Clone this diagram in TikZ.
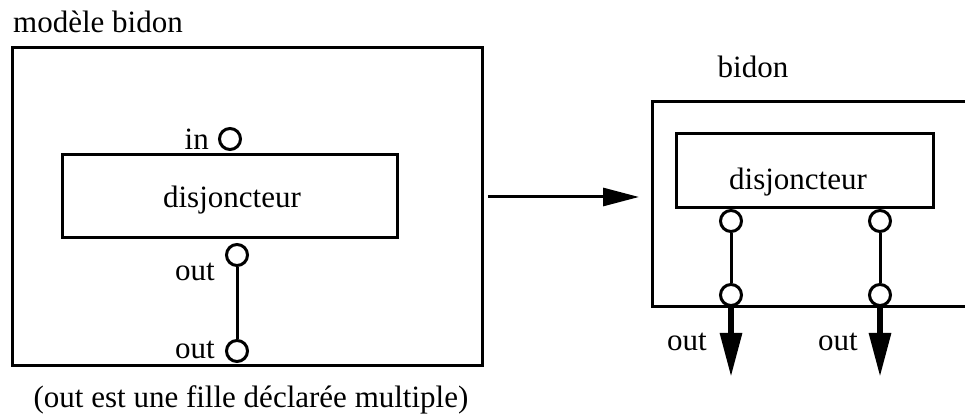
\documentclass[tikz,border=0pt]{standalone}
\usepackage{fontspec}
\setmainfont{Liberation Serif}
\usetikzlibrary{arrows.meta,positioning}

\begin{document}
\begin{tikzpicture}[x=1pt,y=1pt,>=Triangle,
 font=\fontsize{31}{36}\selectfont,
 frame/.style={draw,line width=3pt},
 port/.style={draw,circle,line width=3pt,minimum size=21pt,inner sep=0pt},
 wire/.style={line width=3pt},
 outarrow/.style={line width=6pt,-{Triangle[length=44pt,width=21pt]}},
 lbl/.style={inner sep=0pt}]
\clip (0,0) rectangle (965,419);
\useasboundingbox (0,0) rectangle (965,419);
\node[lbl,anchor=west] (titleL) at (13,397) {modèle bidon};
\draw[frame] (12,371) rectangle (482,53);
\draw[frame] (62,264) rectangle (397,181);
\node[lbl] (disjL) at (232,219) {disjoncteur};
\node[port] (inP) at (230,280) {};
\node[lbl,left=9pt of inP] (inT) {in};
\node[port] (outA) at (237,164) {};
\node[port] (outB) at (237,68) {};
\node[lbl,anchor=east] (outAT) at (215,147) {out};
\node[lbl,anchor=east] (outBT) at (215,69) {out};
\draw[wire] (outA)--(outB);
\node[lbl] (note) at (251,19) {(out est une fille déclarée multiple)};
\coordinate (arrS) at (488,222);
\coordinate (arrE) at (639,222);
\draw[wire,-{Triangle[length=36pt,width=18pt]}] (arrS)--(arrE);
\node[lbl] (titleR) at (753,352) {bidon};
\draw[frame] (652,317) rectangle (990,112);
\draw[frame] (676,285) rectangle (933,211);
\node[lbl] (disjR) at (798,237) {disjoncteur};
\node[port] (r1) at (731,198) {};
\node[port] (r2) at (880,198) {};
\node[port] (r3) at (731,124) {};
\node[port] (r4) at (880,124) {};
\draw[wire] (r1)--(r3);
\draw[wire] (r2)--(r4);
\coordinate (tip1) at (731,42);
\coordinate (tip2) at (880,42);
\draw[outarrow] (r3)--(tip1);
\draw[outarrow] (r4)--(tip2);
\node[lbl] (outC) at (687,77) {out};
\node[lbl] (outD) at (838,77) {out};
\end{tikzpicture}
\end{document}
